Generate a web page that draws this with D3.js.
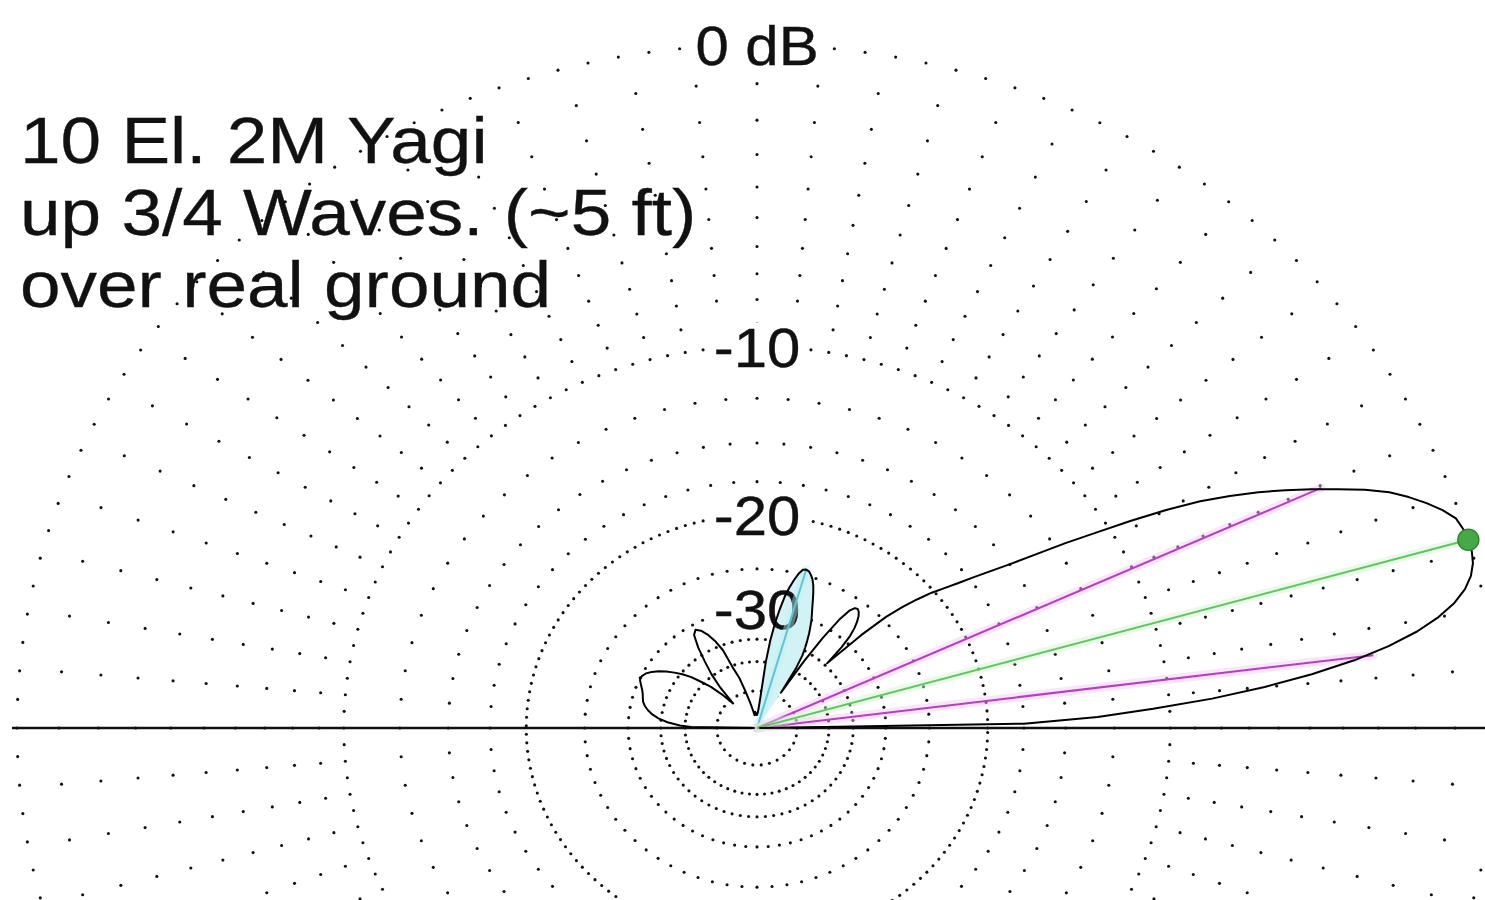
<!DOCTYPE html>
<html>
<head>
<meta charset="utf-8">
<script src="https://cdn.jsdelivr.net/npm/d3@7"></script>
<style>
  body { margin: 0; background: #fff; }
  svg { display: block; }
</style>
</head>
<body>
<script>
// title lines
var titleLines = ['10 El. 2M Yagi', 'up 3/4 Waves. (~5 ft)', 'over real ground'];

// range rings (dB) and which of them carry a label
var ringLevels = [0, -10, -20, -30, -40, -50];
var labelLevels = [0, -10, -20, -30];
var labelTexts = ['0 dB', '-10', '-20', '-30'];

// dB levels at which dots sit along each radial
var radialLevels = [-1, -2, -3, -4, -5, -6, -7, -8, -9, -12.5, -15, -17.5, -25, -35];

// elevation pattern (deg, dB)
var elevAngles = [0, 1, 2, 3, 4, 5, 6, 7, 8, 9, 10, 11, 12, 13, 14, 15, 16, 17, 18, 19,
  20, 21, 22, 23, 24, 25, 26, 27, 28, 29, 30, 31, 32, 33, 34, 35, 36, 37, 38, 39,
  40, 41, 42, 43, 44, 45, 46, 47, 48, 49, 50, 51, 52, 53, 54, 55, 56, 57, 58, 59,
  60, 61, 62, 63, 64, 65, 66, 67, 68, 69, 70, 71, 72, 73, 74, 75, 76, 77, 78, 79,
  80, 81, 82, 83, 84, 86, 88, 90, 92, 94, 96, 98, 100, 102, 104, 106, 108, 110, 112, 114,
  116, 118, 120, 122, 124, 126, 128, 130, 132, 134, 136, 138, 140, 142, 144, 146, 148, 150, 152, 154,
  156, 158, 160, 162, 164, 166, 168, 170, 172, 174, 176, 178, 179, 180];
var elevGain = [-99, -17.5, -13.3, -10.7, -8.3, -6.4, -4.85, -3.55, -2.55, -1.75, -1.15, -0.7, -0.38, -0.17, -0.05, 0, 0, -0.04, -0.12, -0.35,
  -0.65, -1.0, -1.4, -1.95, -2.6, -3.25, -3.95, -4.7, -5.55, -6.5, -7.7, -9.1, -10.6, -12.0, -13.5, -14.9, -16.1, -17.2, -18.3, -19.3,
  -20.2, -21.4, -22.8, -24.6, -28.0, -34.5, -31.0, -29.0, -27.9, -27.1, -26.5, -26.1, -25.9, -26.0, -26.6, -28.2, -31.5, -37, -48, -39,
  -36, -34.5, -33.2, -32, -31, -30, -29.2, -28.4, -27.5, -26.6, -25.8, -25.2, -24.8, -24.5, -24.4, -24.5, -25, -25.8, -26.8, -28,
  -29.8, -32, -35, -40, -52, -62, -66, -68, -68, -66, -64, -66, -68, -62, -56, -50, -44, -41, -36, -33.8,
  -32.3, -31.3, -30.8, -31.4, -33.5, -36.5, -39.5, -44, -52, -46, -42, -39.5, -37, -35.3, -34, -32.8, -31.8, -31, -30.4, -30.1,
  -30.1, -30.5, -30.9, -31.2, -31.4, -31.6, -32, -32.6, -33.4, -34.5, -36.2, -38.8, -41.5, -99];

// beamwidth (-3 dB) points, main lobe peak, marked sidelobe
var beamAngles = [7.3, 24.75];
var beamGain = [-3, -3];
var peakAngle = 16, peakGain = 0;
var sideAngle = 74, sideGain = -24.4;
var sideSpan = [58, 84];

var W = 1485, H = 900;
var cx = 757, cy = 728, RX = 740, RY = 683;

var svg = d3.select('body').append('svg').attr('width', W).attr('height', H);

// ARRL log-periodic radius: 0.89 per 2 dB
var rScale = d3.scaleLog().domain([Math.pow(0.89, 50), 1]).range([-100, 0]);
var x = d3.scaleLinear().domain([-1, 1]).range([cx - RX, cx + RX]);
var y = d3.scaleLinear().domain([-1, 1]).range([cy + RY, cy - RY]);

function pt(angle, db) {
  var r = rScale.invert(db);
  var a = angle * Math.PI / 180;
  return [x(r * Math.cos(a)), y(r * Math.sin(a))];
}

// grid dots
var dots = [];
d3.range(0, 360, 5).forEach(function(a) {
  radialLevels.forEach(function(l) { dots.push(pt(a, l)); });
});
var ringStep = { '0': 2.4, '-10': 2.5, '-20': 2.3, '-30': 5, '-40': 6, '-50': 12 };
ringLevels.forEach(function(l) {
  d3.range(0, 360, ringStep[String(l)]).forEach(function(a) { dots.push(pt(a, l)); });
});

svg.append('g').selectAll('circle')
  .data(dots.filter(function(d) { return d[0] > -5 && d[0] < W + 5 && d[1] > -5 && d[1] < H + 5; }))
  .enter().append('circle')
  .attr('cx', function(d) { return d[0]; })
  .attr('cy', function(d) { return d[1]; })
  .attr('r', 1.55)
  .attr('fill', '#111');

// title
var title = svg.append('g');
titleLines.forEach(function(t, i) {
  title.append('text')
    .attr('transform', 'translate(20,' + (163 + i * 72) + ') scale(1.14,1)')
    .attr('font-family', 'Liberation Sans, Arial, sans-serif')
    .attr('font-size', 64)
    .attr('fill', '#111')
    .attr('stroke', '#111')
    .attr('stroke-width', 0.3)
    .text(t);
});

// ring labels: white boxes first, text later so the lobe fill sits beneath it
var labelGroups = labelLevels.map(function(l, i) {
  var p = pt(90, l);
  var g = svg.append('g').attr('transform', 'translate(' + p[0] + ',' + p[1] + ') scale(1.07,1)');
  var rect = g.append('rect').attr('fill', '#fff');
  var probe = g.append('text')
    .attr('text-anchor', 'middle')
    .attr('dy', '0.36em')
    .attr('font-family', 'Liberation Sans, Arial, sans-serif')
    .attr('font-size', 56)
    .text(labelTexts[i]);
  var b = probe.node().getBBox();
  probe.remove();
  rect.attr('x', b.x - 6).attr('y', b.y + 6).attr('width', b.width + 12).attr('height', b.height - 10);
  return p;
});

// horizon
svg.append('line')
  .attr('x1', 12).attr('x2', W)
  .attr('y1', cy).attr('y2', cy)
  .attr('stroke', '#111')
  .attr('stroke-width', 2.5);

var line = d3.line();

// marked sidelobe fill
var sidePts = [[cx, cy]];
elevAngles.forEach(function(a, i) {
  if (a >= sideSpan[0] && a <= sideSpan[1]) sidePts.push(pt(a, elevGain[i]));
});
sidePts.push([cx, cy]);
svg.append('path')
  .attr('d', line(sidePts))
  .attr('fill', '#d2f3f5');

// label text
labelGroups.forEach(function(p, i) {
  svg.append('text')
    .attr('transform', 'translate(' + p[0] + ',' + p[1] + ') scale(1.07,1)')
    .attr('text-anchor', 'middle')
    .attr('dy', '0.36em')
    .attr('font-family', 'Liberation Sans, Arial, sans-serif')
    .attr('font-size', 56)
    .attr('fill', '#111')
    .attr('stroke', '#111')
    .attr('stroke-width', 0.4)
    .text(labelTexts[i]);
});

function ray(angle, db, color, halo) {
  var p = pt(angle, db);
  svg.append('line')
    .attr('x1', cx).attr('y1', cy).attr('x2', p[0]).attr('y2', p[1])
    .attr('stroke', halo).attr('stroke-width', 9).attr('stroke-opacity', 0.45)
    .attr('stroke-linecap', 'round');
  svg.append('line')
    .attr('x1', cx).attr('y1', cy).attr('x2', p[0]).attr('y2', p[1])
    .attr('stroke', color).attr('stroke-width', 2);
}

ray(sideAngle, sideGain, '#5cc6d6', '#c6f0f4');
beamAngles.forEach(function(a, i) { ray(a, beamGain[i], '#b93cc4', '#f2c8f2'); });
ray(peakAngle, peakGain, '#5cc85c', '#d2f2d2');

// pattern trace
svg.append('path')
  .attr('d', line(elevAngles.map(function(a, i) { return pt(a, elevGain[i]); })))
  .attr('fill', 'none')
  .attr('stroke', '#000')
  .attr('stroke-width', 2)
  .attr('stroke-linejoin', 'round');

// peak marker
var pk = pt(peakAngle, peakGain);
svg.append('circle')
  .attr('cx', pk[0]).attr('cy', pk[1])
  .attr('r', 10.5)
  .attr('fill', '#48a848')
  .attr('stroke', '#2f8a2f')
  .attr('stroke-width', 1.5);
</script>
</body>
</html>
